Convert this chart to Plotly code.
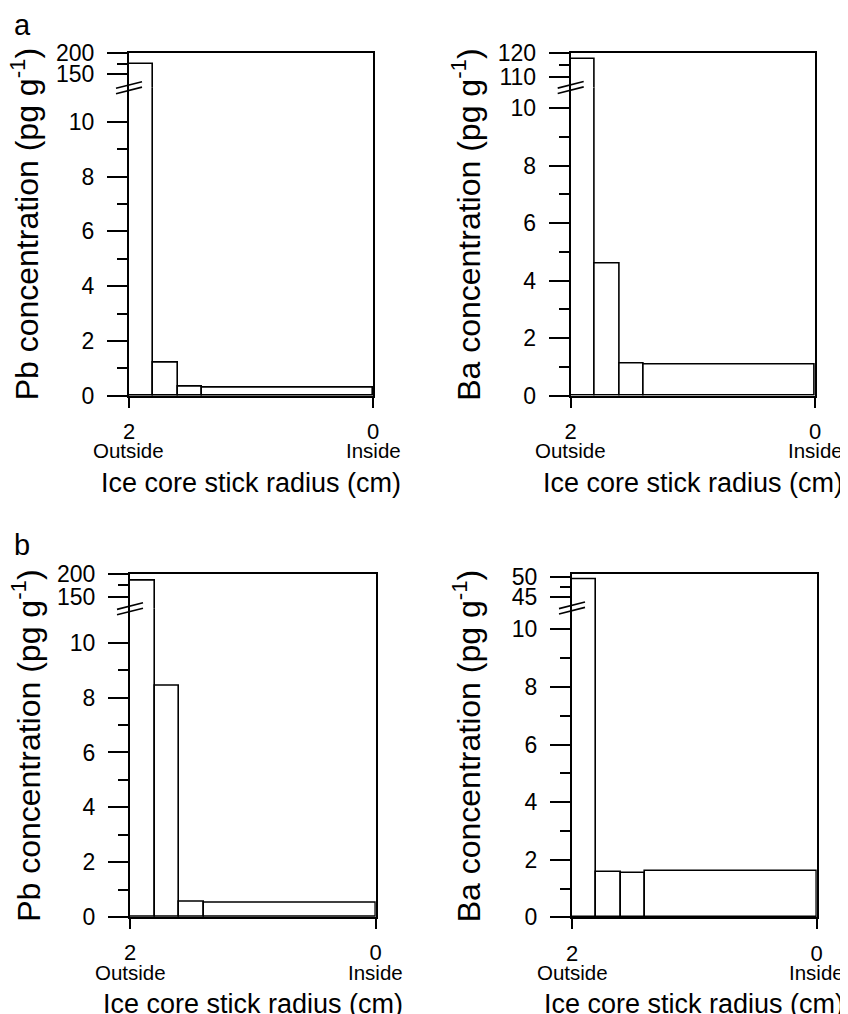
import plotly.graph_objects as go

# ---------------- data ----------------
r_outer = [2.0, 1.8, 1.6, 1.4]          # outer edge of each ring (cm)
r_inner = [1.8, 1.6, 1.4, 0.0]          # inner edge of each ring (cm)
pb_a = [174.0, 1.20, 0.33, 0.29]
ba_a = [117.4, 4.60, 1.12, 1.09]
pb_b = [184.0, 8.45, 0.57, 0.50]
ba_b = [49.5, 1.56, 1.53, 1.62]
x_tick_vals = [2, 0]
x_tick_text = ["2", "0"]
x_side_vals = [2, 0]
x_side_text = ["Outside", "Inside"]
lower_major = [0, 2, 4, 6, 8, 10]
lower_minor = [1, 3, 5, 7, 9]
pbhi_major = [150, 200]
pbhi_minor = [175]
baa_major = [110, 120]
baa_minor = [115]
bab_major = [45, 50]
bab_minor = [47.5]

# page body has an 8px margin: the figure starts at (8, 8) of the window
OX, OY = 8, 8
W, H = 840, 1006
FONT = "Liberation Sans, Arial, Helvetica, sans-serif"
BLACK = "#000000"


def px(x):
    return (x - OX) / W


def py(y):
    return 1 - (y - OY) / H


panels = [
    dict(vals=pb_a, el="Pb", x0=129, x1=373, ybot=395.7, ybrk=87.7, ytop=53,
         lo=11.25, up=[118.5, 200], upmaj=pbhi_major, upmin=pbhi_minor, tx=25),
    dict(vals=ba_a, el="Ba", x0=570.7, x1=815, ybot=395.7, ybrk=87.5, ytop=53,
         lo=10.72, up=[105.8, 120], upmaj=baa_major, upmin=baa_minor, tx=466.5),
    dict(vals=pb_b, el="Pb", x0=130, x1=375.7, ybot=917, ybrk=608.8, ytop=573.7,
         lo=11.24, up=[123.7, 200], upmaj=pbhi_major, upmin=pbhi_minor, tx=26.5),
    dict(vals=ba_b, el="Ba", x0=572, x1=816.7, ybot=917.3, ybrk=608, ytop=574.3,
         lo=10.74, up=[42.1, 50.77], upmaj=bab_major, upmin=bab_minor, tx=466.5),
]

widths = [o - i for o, i in zip(r_outer, r_inner)]

fig = go.Figure()
layout = dict(
    template="none",
    width=W, height=H, autosize=False,
    margin=dict(l=0, r=0, t=0, b=0, pad=0, autoexpand=False),
    paper_bgcolor="white", plot_bgcolor="white", showlegend=False,
    font=dict(family=FONT, color=BLACK, size=22),
    bargap=0,
)
shapes = []
annotations = []

for i, p in enumerate(panels):
    klo = 2 * i + 1
    khi = 2 * i + 2
    for k in (klo, khi):
        fig.add_trace(go.Bar(
            x=r_inner, y=p["vals"], width=widths, offset=0,
            xaxis="x%d" % k, yaxis="y%d" % k,
            marker=dict(color="white", line=dict(color=BLACK, width=1.6)),
            hoverinfo="skip",
        ))
    xdom = [px(p["x0"]), px(p["x1"])]
    common_y = dict(showline=True, linewidth=2, linecolor=BLACK, mirror=True,
                    ticks="outside", ticklen=20, tickwidth=2, tickcolor=BLACK,
                    tickfont=dict(size=23, color=BLACK, family=FONT),
                    showgrid=False, zeroline=False, tickmode="array",
                    ticklabelstandoff=8, automargin=False)
    layout["xaxis%d" % klo] = dict(
        domain=xdom, anchor="y%d" % klo, range=[2, 0],
        showline=True, linewidth=2, linecolor=BLACK,
        ticks="outside", ticklen=10, tickwidth=2, tickcolor=BLACK,
        tickmode="array", tickvals=x_tick_vals, ticktext=x_tick_text,
        tickfont=dict(size=22, color=BLACK, family=FONT),
        ticklabelstandoff=5, showgrid=False, zeroline=False, automargin=False,
    )
    layout["yaxis%d" % klo] = dict(
        domain=[py(p["ybot"]), py(p["ybrk"])], anchor="x%d" % klo,
        range=[0, p["lo"]], tickvals=lower_major,
        minor=dict(tickmode="array", tickvals=lower_minor, ticks="outside",
                   ticklen=10, tickwidth=2, tickcolor=BLACK, showgrid=False),
        **common_y,
    )
    layout["xaxis%d" % khi] = dict(
        domain=xdom, anchor="y%d" % khi, range=[2, 0], side="top",
        showline=True, linewidth=2, linecolor=BLACK, ticks="",
        showticklabels=False, showgrid=False, zeroline=False, automargin=False,
    )
    layout["yaxis%d" % khi] = dict(
        domain=[py(p["ybrk"]), py(p["ytop"])], anchor="x%d" % khi,
        range=p["up"], tickvals=p["upmaj"],
        minor=dict(tickmode="array", tickvals=p["upmin"], ticks="outside",
                   ticklen=10, tickwidth=2, tickcolor=BLACK, showgrid=False),
        **common_y,
    )

    # axis break marks
    ax, c = p["x0"], p["ybrk"]
    for d in (-2.7, 2.7):
        shapes.append(dict(type="line", xref="paper", yref="paper",
                           x0=px(ax - 13), y0=py(c + d + 3.3),
                           x1=px(ax + 13), y1=py(c + d - 3.3),
                           line=dict(color=BLACK, width=1.6)))

    # Outside / Inside labels
    for v, t in zip(x_side_vals, x_side_text):
        annotations.append(dict(x=v, xref="x%d" % klo, y=py(p["ybot"] + 55),
                                yref="paper", text=t, showarrow=False,
                                xanchor="center", yanchor="middle",
                                font=dict(size=20.5, color=BLACK, family=FONT)))
    # x title
    annotations.append(dict(x=px((p["x0"] + p["x1"]) / 2), xref="paper",
                            y=py(p["ybot"] + 87), yref="paper",
                            text="Ice core stick radius (cm)", showarrow=False,
                            xanchor="center", yanchor="middle",
                            font=dict(size=27, color=BLACK, family=FONT)))
    # y title
    annotations.append(dict(x=px(p["tx"]), xref="paper",
                            y=py((p["ytop"] + p["ybot"]) / 2), yref="paper",
                            text="%s concentration (pg g<sup>-1</sup>)" % p["el"],
                            textangle=-90, showarrow=False,
                            xanchor="center", yanchor="middle",
                            font=dict(size=32, color=BLACK, family=FONT)))

# panel letters
annotations.append(dict(x=px(12), y=py(25), xref="paper", yref="paper", text="a",
                        showarrow=False, xanchor="left", yanchor="middle",
                        font=dict(size=29, color=BLACK, family=FONT)))
annotations.append(dict(x=px(12), y=py(545), xref="paper", yref="paper", text="b",
                        showarrow=False, xanchor="left", yanchor="middle",
                        font=dict(size=29, color=BLACK, family=FONT)))

layout["shapes"] = shapes
layout["annotations"] = annotations
fig.update_layout(**layout)
fig.write_html("out.html")
